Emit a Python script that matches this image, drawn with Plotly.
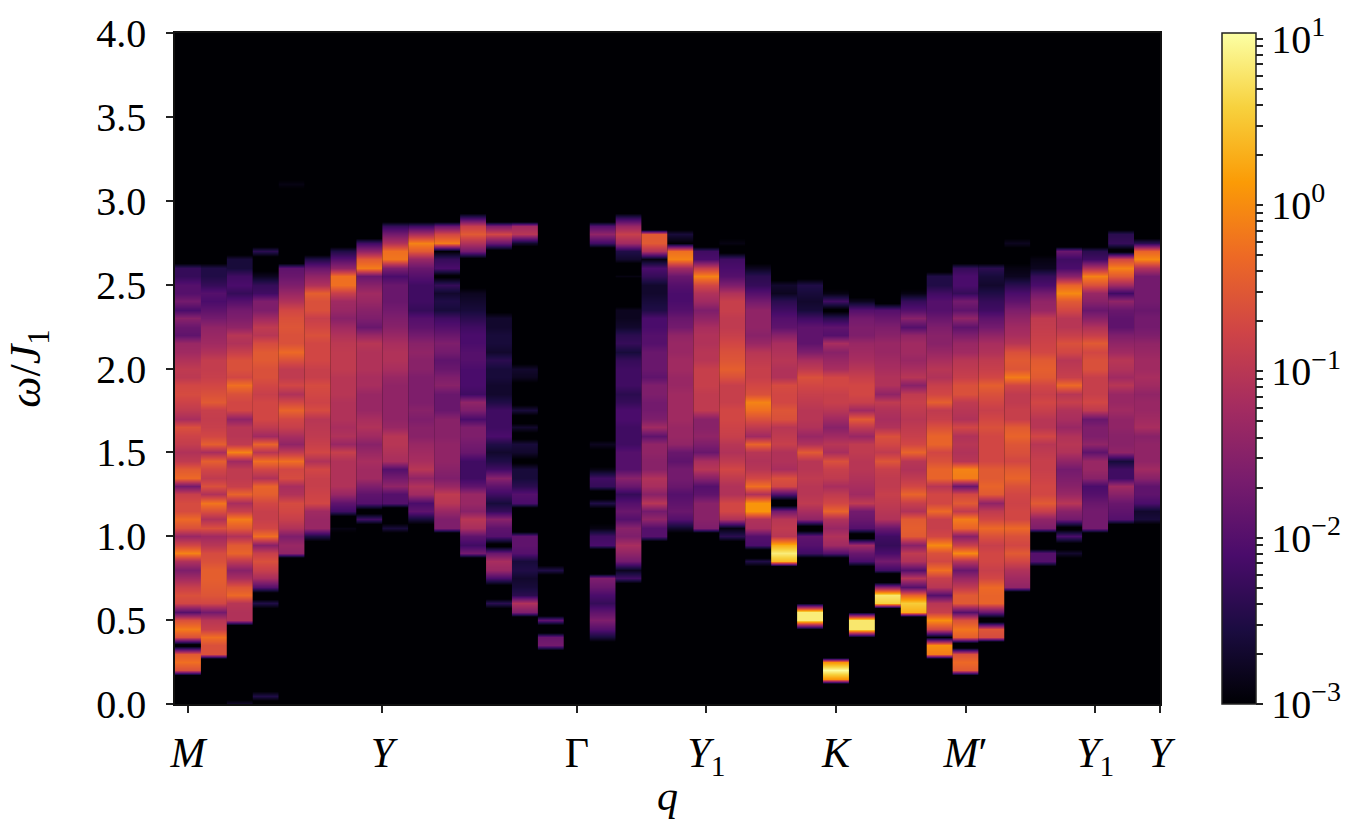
import numpy as np
import plotly.graph_objects as go

# Dynamical structure factor along the q path; every list holds log10 S(q, w)
# for one q column, from its first occupied energy row upward (row step 0.05 J1).
B = -6.0  # empty energy bin

omega_step = 0.05
n_rows = 81
n_cols = 38

col_00 = [-0.5,-0.2,-0.4,-3.3,-0.5,-0.1,-0.5,-2.0,-0.6,-0.5,-0.7,-1.2,-1.6,-1.0,-0.05,-0.6,-1.3,-0.5,-0.25,-0.55,-0.55,-0.7,-1.7,-0.25,-0.4,-0.8,-1.0,-0.75,-0.65,-0.5,-1.1,-0.8,-0.65,-0.55,-0.6,-0.85,-0.8,-1.0,-1.2,-1.3,-1.9,-1.8,-1.5,-2.1,-1.7,-2.0,-2.0,-2.3,-2.3]
col_01 = [-0.5,-0.5,-0.2,-0.7,-0.9,-1.7,-0.6,-0.45,-0.4,-0.35,-0.35,-0.5,-0.55,-0.9,-1.2,-0.5,-1.0,-0.5,-0.15,-1.0,-0.5,-0.8,-0.6,-0.35,-1.1,-0.35,-0.6,-0.7,-0.75,-0.7,-0.4,-0.5,-0.6,-0.7,-0.75,-0.75,-1.0,-1.2,-1.3,-1.4,-1.7,-1.9,-2.1,-2.0,-2.3,-2.5,-2.5]
col_02 = [-1.0,-1.0,-0.9,-0.25,-0.45,-1.1,-1.5,-0.8,-0.3,-0.4,-1.0,-0.4,-0.1,-0.7,-1.1,-0.3,-0.7,-0.8,-0.8,-1.2,-0.05,-0.8,-0.9,-0.9,-1.4,-0.6,-0.6,-0.5,-0.2,-0.6,-0.5,-0.5,-0.7,-1.0,-0.9,-1.4,-1.6,-1.7,-2.0,-2.3,-2.1,-2.2,-2.6,-2.6]
col_03 = [-2.5,-3.5,-2.0,-1.1,-0.7,-0.5,-0.7,-1.5,-0.2,-0.6,-0.7,-0.7,-0.6,-0.35,-0.3,-1.0,-0.6,-0.2,-0.9,-0.3,-1.2,-0.8,-0.6,-0.6,-0.6,-0.7,-0.6,-0.5,-0.5,-0.4,-0.4,-0.55,-0.9,-0.8,-1.2,-1.6,-1.6,-2.2,-2.3,-2.8,-3.1,-3.3,-2.4]
col_04 = [-1.4,-1.3,-1.6,-1.0,-0.7,-0.6,-0.55,-1.0,-1.1,-0.55,-0.6,-0.2,-0.8,-1.4,-1.1,-0.7,-0.6,-0.3,-0.6,-1.0,-0.6,-0.8,-0.8,-0.5,-0.25,-0.5,-0.5,-0.45,-0.5,-0.6,-1.0,-1.3,-1.6,-1.8,-1.9]
col_05 = [-2.5,-1.3,-1.3,-1.2,-0.6,-0.65,-0.7,-0.7,-0.6,-1.0,-0.6,-0.7,-0.8,-0.85,-0.9,-0.55,-0.65,-0.6,-0.55,-0.7,-0.7,-0.6,-0.6,-0.6,-0.5,-0.6,-0.7,-0.5,-0.5,-0.35,-1.0,-1.4,-1.8,-2.5]
col_06 = [-2.9,-3.5,-2.2,-1.9,-1.3,-1.0,-1.0,-1.0,-1.0,-0.7,-1.3,-1.0,-1.1,-1.0,-1.0,-1.0,-0.9,-0.9,-0.9,-0.8,-0.8,-0.8,-0.85,-1.0,-1.2,-1.5,-1.3,-1.2,-0.7,-0.2,-0.2,-1.4,-2.0,-2.5]
col_07 = [-2.2,-3.3,-2.0,-1.9,-1.6,-1.2,-1.2,-1.1,-1.3,-1.5,-1.2,-1.0,-1.1,-1.3,-1.3,-1.3,-1.1,-1.1,-1.0,-1.0,-1.0,-0.9,-1.3,-1.8,-1.6,-1.5,-1.3,-1.2,-1.5,-1.8,-0.1,-0.4,-1.4,-2.2]
col_08 = [-2.6,B,B,-2.0,-2.0,-1.4,-1.7,-2.0,-1.1,-1.0,-0.9,-0.9,-1.3,-1.4,-1.4,-1.4,-1.4,-1.4,-1.3,-1.1,-1.0,-1.0,-1.1,-1.3,-1.5,-1.6,-1.7,-1.8,-1.8,-1.8,-2.1,-1.6,-0.15,-0.2,-1.0,-1.7,-2.3]
col_09 = [-2.6,-1.9,-2.1,-1.2,-1.0,-1.4,-0.9,-1.1,-1.2,-1.3,-1.5,-1.5,-1.6,-1.5,-1.6,-1.6,-1.6,-1.6,-1.5,-1.5,-1.4,-1.5,-1.7,-1.9,-2.0,-2.3,-2.2,-2.2,-2.2,-2.0,-1.8,-1.3,-0.4,-0.05,-1.1,-2.2]
col_10 = [-1.6,-1.6,-1.3,-0.9,-0.8,-1.3,-1.6,-1.5,-1.4,-1.4,-1.4,-1.5,-1.5,-1.5,-1.8,-1.8,-1.8,-1.5,-1.6,-1.8,-1.9,-1.7,-1.6,-1.8,-2.0,-2.2,-2.6,-2.5,-2.7,-2.3,-3.1,-2.1,-2.3,-3.0,-0.1,-0.6,-1.8]
col_11 = [-1.7,-2.2,-1.9,-1.1,-0.9,-1.5,-1.3,-1.3,-1.9,-2.2,-2.2,-2.2,-1.8,-1.7,-1.6,-1.6,-2.1,-1.6,-1.4,-2.2,-2.1,-2.1,-2.1,-2.0,-2.0,-2.1,-2.1,-2.2,-2.4,-2.6,-2.7,-2.8,-3.1,-3.3,-3.3,-3.2,-1.7,-1.0,-0.4,-0.7,-2.2]
col_12 = [-2.4,-3.5,-3.3,-2.1,-1.3,-1.1,-1.8,-3.2,-2.0,-1.9,-1.5,-2.3,-2.6,-2.2,-1.9,-1.5,-2.2,-2.5,-2.7,-2.5,-2.1,-2.2,-2.2,-2.2,-2.5,-2.7,-2.7,-2.6,-2.6,-2.4,-2.7,-2.6,-2.6,-2.7,-2.7,-3.1,-3.1,-3.1,-3.2,-3.3,-3.3,-3.4,-3.2,-1.8,-0.6,-1.6]
col_13 = [-1.6,-1.0,-2.4,-2.6,-2.7,-2.5,-2.6,-2.0,-1.9,-1.9,B,B,B,-2.1,-2.0,-2.4,-2.6,-2.6,-3.1,-2.7,-2.6,-3.2,-2.7,-3.3,-2.6,-3.2,-3.3,-3.1,-2.8,-2.7,-3.2,-3.5,-3.5,-3.5,-3.5,-3.5,-3.5,-3.5,-3.5,-3.5,-3.5,-3.5,-3.5,-3.5,-2.7,-0.9,-1.2]
col_14 = [-1.7,-1.8,B,-1.9,B,B,-3.0,B,B,-2.5]
col_15 = []
col_16 = [-2.6,-2.0,-1.6,-1.9,-2.3,-2.1,-1.8,-1.6,B,B,-4.0,-2.1,-2.2,-2.9,B,-3.3,-2.5,-3.5,-2.3,-2.2,-2.9,-3.2,-3.1,-2.8,-3.2,-3.0,-3.4,-3.3,-3.2,-3.1,-3.4,B,B,B,B,B,B,B,B,B,B,B,B,B,B,B,B,-2.2,-1.4,-2.0]
col_17 = [-2.2,-2.8,-1.7,-1.4,-1.1,-1.6,-1.5,-2.0,-1.8,-2.0,-2.3,-1.8,-1.5,-2.0,-2.0,-2.0,-2.2,-2.2,-2.2,-2.1,-2.1,-2.3,-2.4,-2.2,-2.2,-2.2,-2.3,-2.6,-2.3,-2.4,-2.7,-2.8,-2.8,-3.3,-3.5,-3.5,-2.9,-3.4,-2.7,-2.5,-1.2,-0.7,-1.3,-2.3]
col_18 = [-2.0,-2.0,-1.4,-1.7,-0.9,-1.5,-1.1,-1.0,-1.5,-1.5,-1.4,-1.4,-1.9,-1.2,-1.6,-1.7,-1.7,-1.6,-1.6,-1.9,-1.8,-1.8,-1.8,-2.0,-2.0,-2.1,-2.1,-2.5,-2.6,-2.7,-2.7,-2.3,-2.1,-2.9,-1.0,-0.4,-0.4]
col_19 = [-2.7,-2.0,-1.8,-1.9,-2.0,-1.8,-1.7,-1.7,-1.9,-1.8,-1.4,-1.3,-1.3,-1.2,-1.2,-1.2,-1.2,-1.3,-1.3,-1.2,-1.2,-1.3,-1.3,-1.4,-1.7,-1.8,-2.0,-2.1,-2.1,-2.0,-1.8,-1.2,-0.05,-0.2,-3.0,-2.6]
col_20 = [-1.6,-1.5,-1.5,-1.5,-1.9,-2.0,-1.5,-0.9,-1.1,-1.8,-1.6,-1.4,-1.5,-1.5,-0.8,-0.8,-0.8,-0.7,-0.7,-0.7,-0.9,-0.9,-1.0,-1.0,-1.1,-1.4,-1.6,-1.2,-1.0,-0.6,-0.05,-0.7,-2.1,-2.2,B,-3.0]
col_21 = [-2.4,-2.9,-1.0,-0.6,-0.6,-1.0,-1.0,-0.8,-0.6,-0.8,-1.0,-0.9,-0.7,-0.65,-0.6,-0.6,-0.7,-0.7,-0.7,-0.5,-0.35,-0.45,-0.5,-0.6,-0.7,-0.8,-0.8,-0.7,-0.7,-1.0,-1.6,-2.0,-2.1,-2.2,-3.2,-2.9]
col_22 = [-2.5,B,-2.1,-2.0,-1.1,-1.0,0.1,0.1,-1.0,-0.2,-0.6,-0.9,-1.0,-0.9,-0.3,-1.2,-0.8,-0.5,-0.2,-0.05,-0.5,-0.6,-0.7,-0.7,-0.8,-0.9,-1.3,-1.5,-1.4,-1.4,-1.4,-1.7,-2.0,-2.3,-2.4,-2.8]
col_23 = [0.4,0.85,0.3,-0.9,-0.8,-0.9,-1.7,-3.5,-2.0,-0.6,-0.5,-1.1,-1.0,-1.0,-0.7,-0.8,-0.9,-0.5,-0.45,-0.6,-0.6,-0.55,-1.0,-1.0,-0.9,-1.0,-1.1,-1.5,-1.9,-2.0,-2.2,-2.4,-2.8,-2.7]
col_24 = [-3.0,0.85,0.85,-3.0,B,B,B,B,B,-2.2,-2.0,-1.9,-3.5,-1.4,-1.1,-0.8,-0.9,-0.9,-0.8,-0.9,-0.9,-0.4,-1.0,-1.3,-1.0,-0.9,-0.9,-0.8,-0.7,-0.6,-0.5,-0.8,-1.1,-1.6,-1.9,-1.9,-1.9,-2.2,-2.6,-2.7,-2.6,-2.5,-3.2,-3.0]
col_25 = [0.1,1.0,0.1,B,B,B,B,B,B,B,B,B,B,B,B,-2.0,-1.2,-1.0,-1.3,-1.0,-0.3,-0.6,-0.8,-1.1,-0.8,-0.7,-0.5,-1.1,-0.9,-1.2,-1.5,-1.2,-0.9,-0.7,-0.7,-0.6,-0.6,-1.1,-1.3,-1.5,-1.1,-2.0,-1.9,-2.4,-3.1,-2.2,-2.9]
col_26 = [-3.0,0.8,0.8,-3.0,B,B,B,B,B,-2.1,-1.8,-1.2,-3.5,-2.0,-1.8,-1.7,-0.8,-1.2,-1.1,-1.0,-0.9,-0.9,-0.8,-0.8,-1.3,-0.8,-0.4,-1.2,-0.7,-0.6,-0.6,-0.7,-0.9,-1.1,-1.2,-1.3,-1.6,-1.6,-1.7,-2.0,-2.8,-3.2]
col_27 = [0.6,0.8,-1.5,B,-2.2,-1.7,-2.1,-2.3,-2.2,-1.8,-1.0,-0.9,-0.8,-0.7,-0.8,-0.8,-0.7,-0.45,-0.8,-0.6,-0.5,-1.0,-1.1,-1.0,-0.8,-1.4,-1.0,-1.0,-1.1,-1.2,-1.3,-1.3,-1.5,-1.6,-1.8,-2.0,-3.3,-3.3,-3.2]
col_28 = [0.3,0.55,-0.3,-2.0,-0.9,-2.0,-1.0,-0.8,-1.5,-0.4,-0.35,-0.4,-1.0,-0.7,-0.3,-0.6,-0.8,-1.0,-0.9,-0.3,-0.6,-0.7,-0.8,-0.9,-0.8,-0.7,-0.8,-1.5,-0.9,-1.1,-1.3,-1.2,-1.2,-1.4,-2.0,-1.5,-2.0,-2.3,-2.9]
col_29 = [-0.1,0.05,-3.0,-0.6,0.05,-0.7,-0.9,-2.0,-0.9,-0.7,-0.2,-0.6,-0.5,0.0,-0.6,-0.7,-0.7,-0.25,-0.6,-0.6,-0.9,-0.3,-0.3,-0.5,-0.6,-0.3,-0.3,-0.5,-0.7,-0.8,-0.35,-0.6,-0.7,-1.0,-0.9,-1.1,-1.3,-1.5,-1.5,-1.6,-1.8,-2.0,-2.0,-2.2,-2.5,-2.5]
col_30 = [-0.4,-0.25,-0.5,-4.0,-0.35,-0.15,-0.5,-2.0,-0.4,-0.4,-0.8,-1.3,-1.8,-0.9,0.0,-0.7,-1.5,-0.3,-0.1,-0.8,-0.4,-0.6,-1.8,-0.1,-0.05,-0.9,-1.0,-0.9,-1.0,-0.6,-1.0,-0.9,-0.8,-0.5,-0.5,-0.7,-0.8,-0.9,-1.2,-1.3,-1.6,-1.9,-1.4,-1.9,-1.7,-2.3,-2.1,-2.1,-2.3]
col_31 = [-0.55,-0.45,-3.5,-1.8,-0.3,-0.3,-0.25,-0.6,-0.7,-0.6,-0.6,-0.7,-0.5,-0.25,-0.6,-0.8,-1.4,-0.4,-0.3,-0.4,-0.4,-0.6,-0.6,-0.6,-0.6,-0.5,-0.6,-0.7,-0.6,-0.5,-0.35,-0.6,-0.7,-0.8,-1.0,-1.1,-1.4,-1.7,-1.9,-2.2,-2.3,-2.5,-2.7,-2.6,-2.4]
col_32 = [-1.4,-1.2,-1.0,-0.6,-0.4,-0.6,-0.5,-0.25,-0.6,-0.6,-0.65,-0.6,-0.5,-0.3,-0.4,-0.6,-0.5,-0.45,-0.3,-0.4,-0.7,-0.7,-0.8,-0.8,-0.6,-0.1,-0.45,-0.4,-0.5,-0.9,-1.1,-1.2,-1.4,-1.6,-1.9,-2.1,-2.4,-2.8,-2.9,B,B,-2.8]
col_33 = [-2.0,-2.0,B,B,-1.6,-1.4,-0.7,-0.4,-0.6,-0.6,-0.65,-0.7,-0.7,-0.8,-0.9,-0.6,-0.9,-0.9,-0.7,-0.6,-0.7,-0.6,-0.4,-0.35,-0.4,-0.6,-0.65,-0.7,-0.75,-0.8,-1.3,-1.4,-1.7,-2.1,-2.3,-2.8,-2.9]
col_34 = [-2.7,-3.3,-2.1,-3.2,-1.7,-1.5,-0.9,-1.3,-1.5,-1.6,-1.7,-1.4,-1.0,-0.9,-1.0,-1.3,-1.1,-1.0,-0.7,-0.9,-0.25,-0.7,-0.8,-0.9,-0.6,-0.5,-0.7,-0.9,-0.9,-0.6,-0.4,0.0,-0.3,-1.5,-2.1,-2.2,-1.8]
col_35 = [-1.7,-1.7,-1.7,-1.8,-2.0,-2.1,-1.5,-1.3,-1.3,-1.9,-1.4,-1.6,-1.6,-1.8,-0.8,-0.6,-0.7,-0.7,-0.7,-0.5,-0.5,-0.6,-0.4,-0.7,-1.0,-1.5,-1.8,-1.5,-1.3,-0.5,-0.05,-1.0,-2.2,-2.4]
col_36 = [-2.0,-1.9,-1.8,-1.5,-1.2,-2.2,-2.2,-2.6,-1.4,-1.5,-1.5,-1.4,-1.4,-1.2,-1.3,-1.3,-0.9,-1.2,-1.0,-0.9,-1.2,-1.4,-1.6,-1.9,-1.9,-1.8,-1.4,-2.2,-1.2,-0.4,-0.05,-0.6,-3.2,-2.3,-2.4]
col_37 = [-2.6,-2.7,-2.1,-1.9,-1.9,-1.5,-1.2,-1.4,-1.4,-1.4,-1.5,-1.1,-1.2,-1.3,-1.3,-1.4,-1.2,-1.1,-1.2,-1.2,-1.3,-1.4,-1.6,-1.7,-1.7,-1.8,-1.7,-1.7,-1.7,-1.7,-1.0,0.0,-0.3,-2.4]

# energy row index of the first entry in each column list
first_row = [4,6,10,12,18,20,21,22,21,22,21,18,12,11,7,0,8,15,20,21,21,20,17,17,9,3,8,12,11,6,4,8,14,17,18,21,22,22]

# isolated weak bins: (column, row, log10 value)
faint_bins = [(2,0,-2.7),(3,1,-2.5),(4,62,-2.9),(7,19,-3.0),(8,64,-3.1),(13,63,-3.1)]

columns = [col_00,col_01,col_02,col_03,col_04,col_05,col_06,col_07,col_08,col_09,
           col_10,col_11,col_12,col_13,col_14,col_15,col_16,col_17,col_18,col_19,
           col_20,col_21,col_22,col_23,col_24,col_25,col_26,col_27,col_28,col_29,
           col_30,col_31,col_32,col_33,col_34,col_35,col_36,col_37]

x_tick_positions = [0, 7.5, 15, 20, 25, 30, 35, 37.5]
x_tick_labels = ["<i>M</i>", "<i>Y</i>", "Γ", "<i>Y</i><sub>1</sub>", "<i>K</i>",
                 "<i>M</i>′", "<i>Y</i><sub>1</sub>", "<i>Y</i>"]
y_ticks = [0.0, 0.5, 1.0, 1.5, 2.0, 2.5, 3.0, 3.5, 4.0]

omega = np.arange(n_rows) * omega_step

# Overall weight normalisation of the log10 values in the mid-intensity range.
norm_in = [-6.0, -1.5, -0.7, -0.3, 0.0, 1.0]
norm_out = [-6.0, -1.5, -0.85, -0.38, -0.02, 1.0]

grid = np.full((n_rows, n_cols), B)
for c, (start, values) in enumerate(zip(first_row, columns)):
    for i, v in enumerate(values):
        grid[start + i, c] = np.interp(v, norm_in, norm_out)
for c, r, v in faint_bins:
    grid[r, c] = v

# Empty bins get a floor tied to their strongest neighbour, so that every band
# fades out the same distance (in energy) above and below its last occupied row.
FADE = 0.55
floored = grid.copy()
for c in range(n_cols):
    for r in range(n_rows):
        if grid[r, c] == B:
            lo = grid[r - 1, c] if r > 0 else B
            hi = grid[r + 1, c] if r < n_rows - 1 else B
            peak = max(lo, hi)
            if peak > -3:
                floored[r, c] = -3 - (peak + 3) * (1 - FADE) / FADE

FONT = "Liberation Serif"
TICK_SIZE = 40

fig = go.Figure()
# One two-cell heatmap per q column: smoothing acts along energy only,
# while the q columns keep hard edges.
for c in range(n_cols):
    col = floored[:, c]
    fig.add_trace(go.Heatmap(
        x=[c - 0.25, c + 0.25],
        y=omega,
        z=np.column_stack([col, col]),
        zsmooth="best",
        coloraxis="coloraxis",
        hoverinfo="skip",
    ))

cbar_vals, cbar_text = [], []
for d in range(-3, 1):
    for m in range(1, 10):
        cbar_vals.append(d + np.log10(m))
        cbar_text.append(f"10<sup>{str(d).replace('-', '−')}</sup>" if m == 1 else "")
cbar_vals.append(1.0)
cbar_text.append("10<sup>1</sup>")

fig.update_layout(
    width=1353,
    height=838,
    margin=dict(l=175, r=192, t=33, b=134, pad=0),
    paper_bgcolor="white",
    plot_bgcolor="#000004",
    font=dict(family=FONT, size=TICK_SIZE, color="black"),
    showlegend=False,
    coloraxis=dict(
        colorscale="Inferno",
        cmin=-3,
        cmax=1.034,
        colorbar=dict(
            x=(1222 - 175) / 986,
            xanchor="left",
            xpad=0,
            y=0.5,
            yanchor="middle",
            ypad=0,
            len=1,
            lenmode="fraction",
            thickness=34,
            thicknessmode="pixels",
            outlinecolor="#222222",
            outlinewidth=1.5,
            ticks="outside",
            ticklen=7,
            tickwidth=1.5,
            tickcolor="#222222",
            tickmode="array",
            tickvals=cbar_vals,
            ticktext=cbar_text,
            tickfont=dict(family=FONT, size=TICK_SIZE, color="black"),
        ),
    ),
    xaxis=dict(
        range=[-0.5, 37.5],
        tickmode="array",
        tickvals=x_tick_positions,
        ticktext=x_tick_labels,
        ticks="outside",
        ticklen=7,
        tickwidth=1.5,
        tickcolor="#222222",
        tickfont=dict(family=FONT, size=42),
        showline=True,
        linecolor="#111111",
        linewidth=1.5,
        mirror=True,
        showgrid=False,
        zeroline=False,
        tickangle=0,
        ticklabelstandoff=4,
        title=dict(text="<i>q</i>", standoff=0, font=dict(family=FONT, size=42)),
        automargin=True,
    ),
    yaxis=dict(
        range=[0, 4],
        tickmode="array",
        tickvals=y_ticks,
        ticktext=[f"{t:.1f}" for t in y_ticks],
        ticks="outside",
        ticklen=7,
        tickwidth=1.5,
        tickcolor="#222222",
        showline=True,
        linecolor="#111111",
        linewidth=1.5,
        mirror=True,
        showgrid=False,
        zeroline=False,
        ticklabelstandoff=12,
        title=dict(text="<i>ω</i>/<i>J</i><sub>1</sub>", standoff=42, font=dict(family=FONT, size=44)),
        automargin=True,
    ),
)

fig.write_html("out.html")
